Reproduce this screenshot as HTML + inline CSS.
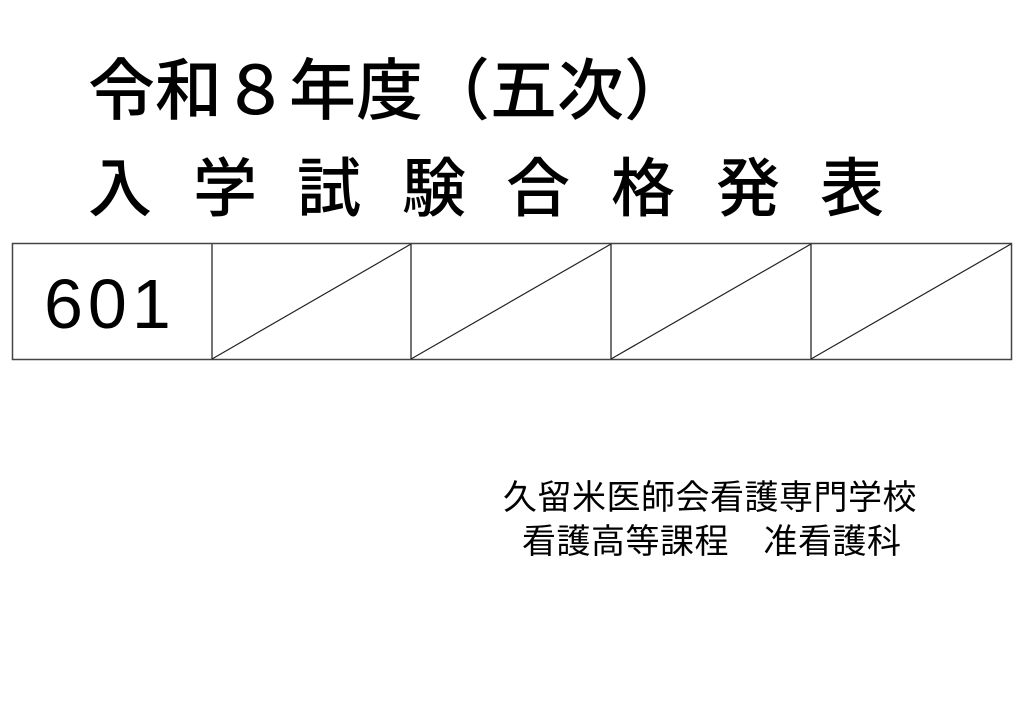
<!DOCTYPE html>
<html><head><meta charset="utf-8"><style>
body{margin:0;width:1024px;height:724px;background:#fff;position:relative;overflow:hidden}
.t{position:absolute;font-family:"Liberation Sans","Noto Sans CJK JP",sans-serif;font-weight:500;color:#000;line-height:1;white-space:nowrap}
.b{position:absolute;font-family:"Liberation Sans","Noto Sans CJK JP",sans-serif;color:#000;line-height:1;white-space:nowrap;font-size:34px;letter-spacing:0.5px}
</style></head><body>
<div class="t" style="left:88px;top:58px;font-size:67px">令和８年度（五次）</div>
<div class="t" style="top:157px;font-size:64px">
<span style="position:absolute;left:88px">入</span>
<span style="position:absolute;left:193px">学</span>
<span style="position:absolute;left:297px">試</span>
<span style="position:absolute;left:402px">験</span>
<span style="position:absolute;left:506px">合</span>
<span style="position:absolute;left:611px">格</span>
<span style="position:absolute;left:716px">発</span>
<span style="position:absolute;left:820px">表</span>
</div>
<svg style="position:absolute;left:0;top:0" width="1024" height="724">
<g stroke="#444" stroke-width="1.5" fill="none">
<rect x="12.5" y="243.5" width="999" height="116"/>
<line x1="212" y1="243" x2="212" y2="360"/>
<line x1="411" y1="243" x2="411" y2="360"/>
<line x1="611" y1="243" x2="611" y2="360"/>
<line x1="811" y1="243" x2="811" y2="360"/>
</g>
<g stroke="#222" stroke-width="1.2">
<line x1="212" y1="359" x2="411" y2="244"/>
<line x1="411" y1="359" x2="611" y2="244"/>
<line x1="611" y1="359" x2="811" y2="244"/>
<line x1="811" y1="359" x2="1011" y2="244"/>
</g>
<text x="44" y="328" font-family="Liberation Sans, sans-serif" font-size="70" letter-spacing="5" fill="#000">601</text>
</svg>
<div class="b" style="left:503px;top:481px">久留米医師会看護専門学校</div>
<div class="b" style="left:522px;top:525px">看護高等課程　准看護科</div>
</body></html>
